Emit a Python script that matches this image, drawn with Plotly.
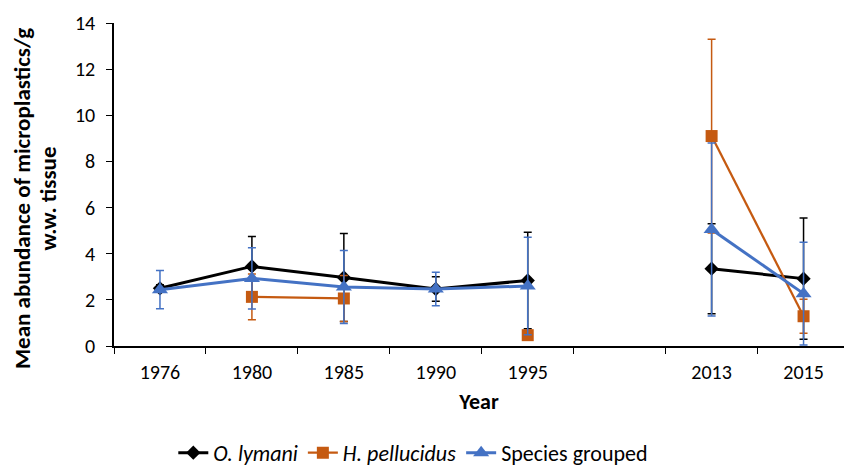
import plotly.graph_objects as go

categories = ["1976", "1980", "1985", "1990", "1995", " ", "2013", "2015"]

o_lymani = [2.5, 3.45, 2.97, 2.47, 2.84, None, 3.35, 2.92]
o_lymani_err = [0.15, 1.3, 1.91, 0.53, 2.09, None, 1.95, 2.63]

h_pellucidus = [None, 2.13, 2.06, None, 0.47, None, 9.1, 1.29]
h_pellucidus_err = [None, 0.99, 1.0, None, None, None, 4.2, 0.74]

grouped = [2.44, 2.93, 2.56, 2.47, 2.6, None, 5.05, 2.27]
grouped_err = [0.83, 1.33, 1.58, 0.73, 2.11, None, 3.75, 2.23]

y_title_lines = ["Mean abundance of microplastics/g", "w.w. tissue"]

FONT = "Carlito, Lato, Calibri, sans-serif"

fig = go.Figure()

fig.add_trace(go.Scatter(
    x=categories, y=o_lymani, name="<i>O. lymani</i>",
    mode="lines+markers",
    line=dict(color="#000000", width=3),
    marker=dict(symbol="diamond", size=11, color="#000000"),
    error_y=dict(type="data", array=o_lymani_err, color="#000000", thickness=1.5, width=4),
    connectgaps=False,
))
fig.add_trace(go.Scatter(
    x=categories, y=h_pellucidus, name="<i>H. pellucidus</i>",
    mode="lines+markers",
    line=dict(color="#C55A11", width=2.25),
    marker=dict(symbol="square", size=12, color="#C55A11"),
    error_y=dict(type="data", array=h_pellucidus_err, color="#C55A11", thickness=1.5, width=4),
    connectgaps=False,
))
fig.add_trace(go.Scatter(
    x=categories, y=grouped, name="Species grouped",
    mode="lines+markers",
    line=dict(color="#4472C4", width=3),
    marker=dict(symbol="triangle-up", size=14, color="#4472C4"),
    error_y=dict(type="data", array=grouped_err, color="#4472C4", thickness=1.5, width=4),
    connectgaps=False,
))

# y-axis title as two rotated text lines (tight line spacing as in the reference)
for i, (line, xpos) in enumerate(zip(y_title_lines, [-0.126, -0.091])):
    fig.add_annotation(
        text="<b>%s</b>" % line, textangle=-90,
        xref="paper", yref="paper", x=xpos, y=0.455,
        xanchor="center", yanchor="middle", showarrow=False,
        font=dict(size=23, family=FONT, color="#000000"),
    )

fig.update_layout(
    width=844, height=466,
    margin=dict(l=114, r=0, t=23, b=120, autoexpand=False),
    paper_bgcolor="white", plot_bgcolor="white",
    font=dict(family=FONT, size=20, color="#000000"),
    showlegend=True,
    legend=dict(orientation="h", x=0.41, xanchor="center", y=-0.331, yanchor="middle",
                font=dict(size=22, family=FONT), itemwidth=30, tracegroupgap=0),
    xaxis=dict(
        type="category", categoryorder="array", categoryarray=categories,
        range=[-0.5, 7.44],
        showline=True, linecolor="#000000", linewidth=1.5,
        ticks="outside", tickson="boundaries", ticklen=6, tickcolor="#000000",
        ticklabelstandoff=7,
        showgrid=False, zeroline=False,
        tickfont=dict(size=20, family=FONT),
        title=dict(text="<b>Year</b>", font=dict(size=22, family=FONT), standoff=11),
    ),
    yaxis=dict(
        range=[0, 14], dtick=2, tick0=0,
        showline=True, linecolor="#000000", linewidth=1.5,
        ticks="outside", ticklen=6, tickcolor="#000000",
        ticklabelstandoff=7,
        showgrid=False, zeroline=False,
        tickfont=dict(size=20, family=FONT),
    ),
)

fig.write_html("out.html")
